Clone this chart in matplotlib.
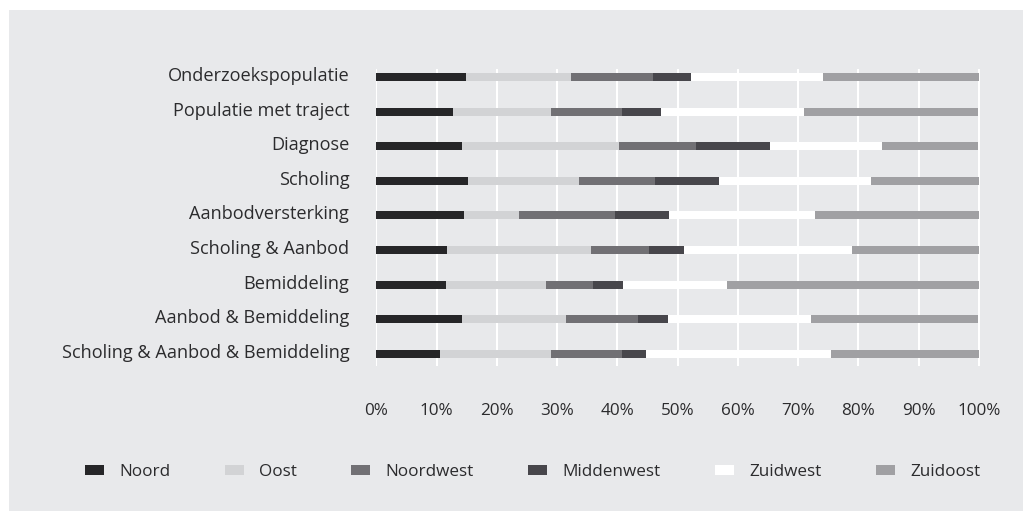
import matplotlib
matplotlib.use("Agg")
import matplotlib.pyplot as plt
import matplotlib.transforms as mtransforms
from matplotlib.patches import Rectangle
import numpy as np

# categories, top to bottom
categories = [
    "Onderzoekspopulatie",
    "Populatie met traject",
    "Diagnose",
    "Scholing",
    "Aanbodversterking",
    "Scholing & Aanbod",
    "Bemiddeling",
    "Aanbod & Bemiddeling",
    "Scholing & Aanbod & Bemiddeling",
]

regions = ["Noord", "Oost", "Noordwest", "Middenwest", "Zuidwest", "Zuidoost"]

# share per region (%), one list per region, same order as categories
noord = [14.9, 12.8, 14.3, 15.2, 14.5, 11.7, 11.5, 14.3, 10.5]
oost = [17.4, 16.2, 26.0, 18.5, 9.2, 24.0, 16.6, 17.2, 18.5]
noordwest = [13.7, 11.8, 12.8, 12.6, 15.9, 9.5, 7.8, 11.9, 11.8]
middenwest = [6.2, 6.4, 12.2, 10.5, 9.0, 5.8, 5.1, 5.0, 4.0]
zuidwest = [21.9, 23.7, 18.7, 25.3, 24.2, 28.0, 17.2, 23.8, 30.6]
zuidoost = [26.0, 29.0, 15.9, 17.9, 27.2, 21.0, 41.8, 27.7, 24.6]

xticks = [0, 10, 20, 30, 40, 50, 60, 70, 80, 90, 100]
xtick_labels = [f"{t}%" for t in xticks]

colors = ["#262628", "#d2d3d5", "#717074", "#47464b", "#ffffff", "#a0a0a3"]
bg = "#e8e9eb"
txt = "#2b2b2d"
fs = 12.3

plt.rcParams["font.family"] = ["Open Sans", "DejaVu Sans"]
plt.rcParams["font.size"] = fs

fig = plt.figure(figsize=(10.23, 5.11), dpi=100, facecolor="white")
fig.patches.append(
    Rectangle((9 / 1023, 0), 1 - 9 / 1023, 1 - 10 / 511,
              transform=fig.transFigure, facecolor=bg, edgecolor="none", zorder=-10)
)

ax = fig.add_axes([376.3 / 1023, 1 - 366 / 511, 603.8 / 1023, 297 / 511])
ax.patch.set_visible(False)

series = [noord, oost, noordwest, middenwest, zuidwest, zuidoost]
y = np.arange(len(categories))
left = np.zeros(len(categories))
handles = []
for name, vals, col in zip(regions, series, colors):
    vals = np.array(vals, dtype=float)
    h = ax.barh(y, vals, left=left, height=0.231, color=col, edgecolor="none",
                label=name, zorder=3)
    handles.append(h)
    left = left + vals

ax.set_xlim(0, 100.2)
ax.set_ylim(8.347, -0.231)
ax.set_xticks(xticks)
ax.set_xticklabels(xtick_labels)
ax.set_yticks(y)
ax.set_yticklabels(categories)
ax.grid(axis="x", color="white", linewidth=1.5, zorder=1)
ax.set_axisbelow(True)
for s in ax.spines.values():
    s.set_visible(False)
ax.tick_params(axis="x", length=0, pad=26.5, colors=txt, labelsize=fs)
ax.tick_params(axis="y", length=0, pad=19.5, colors=txt, labelsize=13.1)

# category labels sit a little above the bar centre
shift = mtransforms.ScaledTranslation(0, 3 / 100, fig.dpi_scale_trans)
for lab in ax.get_yticklabels():
    lab.set_transform(lab.get_transform() + shift)

fig.legend(handles=handles, labels=regions, loc="center left",
           bbox_to_anchor=(69.6 / 1023, 1 - 472 / 511), ncol=6, frameon=False,
           fontsize=fs, handlelength=1.11, handleheight=0.47,
           handletextpad=0.88, columnspacing=3.2, labelcolor=txt)

fig.savefig("out.png", dpi=100, facecolor=fig.get_facecolor())
